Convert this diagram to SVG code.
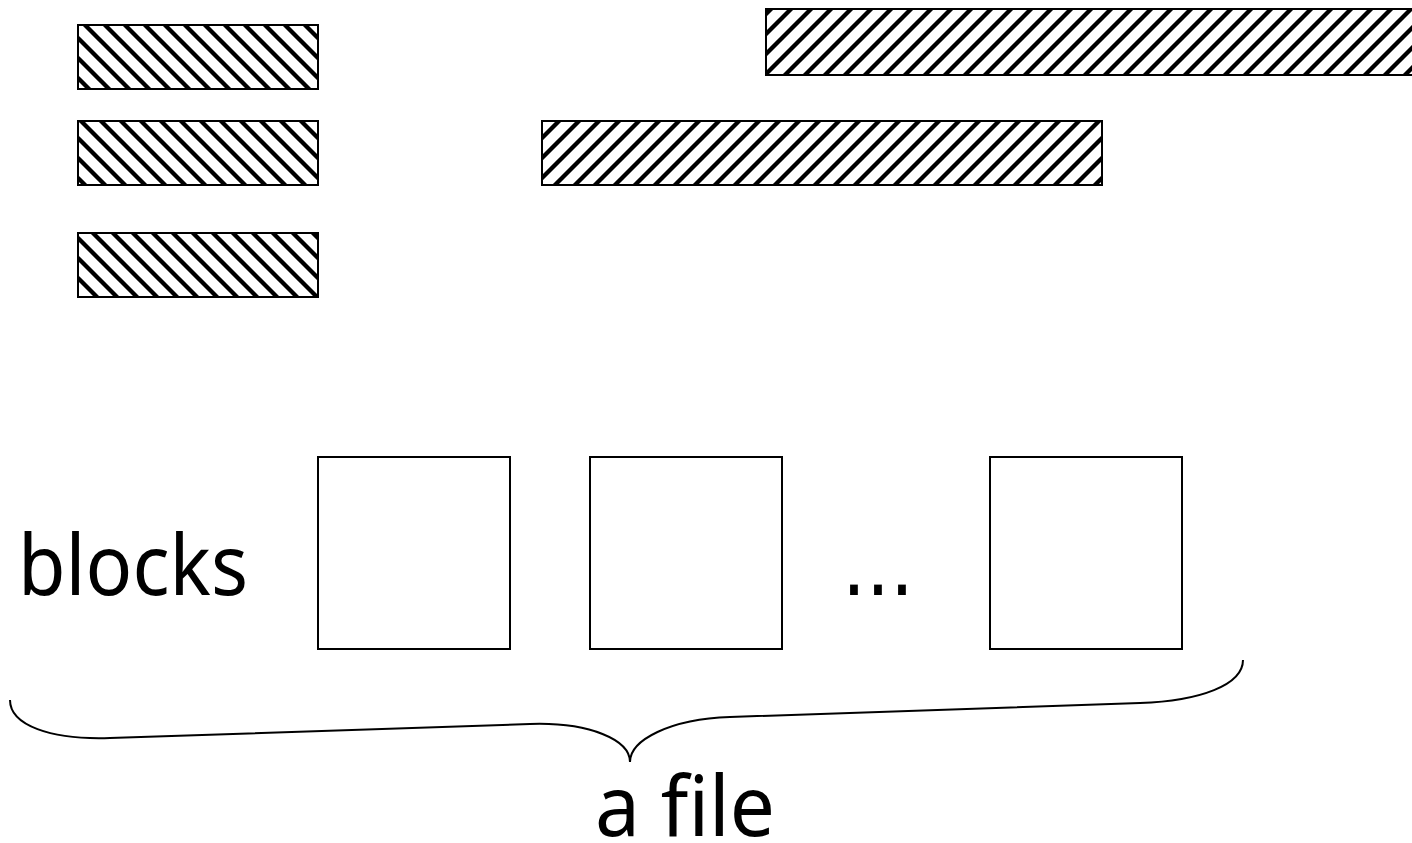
<svg xmlns="http://www.w3.org/2000/svg" width="1412" height="843" viewBox="0 0 1412 843">
<defs>
<pattern id="hatchBack" patternUnits="userSpaceOnUse" x="0" y="0" width="20" height="20">
<rect width="20" height="20" fill="#fff"/>
<path d="M-5,-5 L25,25 M-5,15 L5,25 M15,-5 L25,5" stroke="#000" stroke-width="4.3" fill="none"/>
</pattern>
<pattern id="hatchFwd" patternUnits="userSpaceOnUse" x="0" y="0" width="20" height="20">
<rect width="20" height="20" fill="#fff"/>
<path d="M-5,25 L25,-5 M-5,5 L5,-5 M15,25 L25,15" stroke="#000" stroke-width="4.3" fill="none"/>
</pattern>
</defs>
<style>
.bar{stroke:#000;stroke-width:2}
.back{fill:url(#hatchBack)}
.fwd{fill:url(#hatchFwd)}
.block{fill:#fff;stroke:#000;stroke-width:2}
.lbl{font-family:"Noto Sans","DejaVu Sans","Liberation Sans",sans-serif;font-size:84px;fill:#000;font-variant-ligatures:none}
.dots{font-family:"DejaVu Sans","Liberation Sans",sans-serif}
.brace{fill:none;stroke:#000;stroke-width:2}
</style>
<rect width="1412" height="843" fill="#fff"/>
<g id="bar-left-1"><rect class="bar back" x="78" y="25" width="240" height="64"/></g>
<g id="bar-left-2"><rect class="bar back" x="78" y="121" width="240" height="64"/></g>
<g id="bar-left-3"><rect class="bar back" x="78" y="233" width="240" height="64"/></g>
<g id="bar-right-top"><rect class="bar fwd" x="766" y="9" width="660" height="66"/></g>
<g id="bar-right-mid"><rect class="bar fwd" x="542" y="121" width="560" height="64"/></g>
<g id="label-blocks"><text class="lbl" x="18" y="595" textLength="230" lengthAdjust="spacingAndGlyphs">blocks</text></g>
<g id="block-1"><rect class="block" x="318" y="457" width="192" height="192"/></g>
<g id="block-2"><rect class="block" x="590" y="457" width="192" height="192"/></g>
<g id="ellipsis"><text class="lbl dots" x="842" y="595" textLength="72" lengthAdjust="spacingAndGlyphs">...</text></g>
<g id="block-3"><rect class="block" x="990" y="457" width="192" height="192"/></g>
<g id="connectors">
<path class="brace" d="M10,700 C10,725 50,740 110,738 L530,724 C590,722 630,740 630,762 C630,740 670,719 730,717 L1140,703 C1200,701 1243,685 1243,660"/>
</g>
<g id="label-file"><text class="lbl" x="595" y="836" textLength="180" lengthAdjust="spacingAndGlyphs">a file</text></g>
</svg>
